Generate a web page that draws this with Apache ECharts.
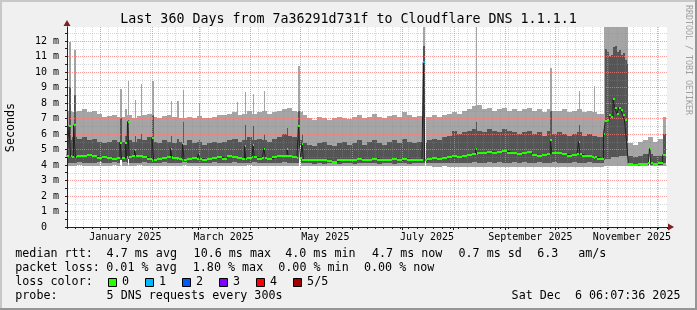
<!DOCTYPE html>
<html><head><meta charset="utf-8">
<script src="https://cdn.jsdelivr.net/npm/echarts@6/dist/echarts.min.js"></script>
<style>html,body{margin:0;padding:0;background:#f0f0f0}#c{width:697px;height:310px}</style>
</head><body><div id="c"></div>
<script>
// ===== DATA (x unit: days since 2024-12-12 00:00) =====
const monthStartDays = [20, 51, 79, 110, 140, 171, 201, 232, 263, 293, 324, 354];
const monthLabelDays = [35, 94, 155, 216, 278, 339];
const monthLabels = ['January 2025', 'March 2025', 'May 2025', 'July 2025', 'September 2025', 'November 2025'];
const yMajorTicks = [1, 2, 3, 4, 5, 6, 7, 8, 9, 10, 11, 12];
const yMinorTicks = [0.5, 1.5, 2.5, 3.5, 4.5, 5.5, 6.5, 7.5, 8.5, 9.5, 10.5, 11.5, 12.5];

// regular 3-day buckets (0..318), then the November burst, then the last weeks
const regularCount = 107;
const blockDays = [321.9, 323.0, 324.2, 325.3, 326.5, 327.6, 328.8, 329.9, 331.1, 332.2, 333.4, 334.5, 335.7];
const postDays = [336.8, 339.8, 342.8, 345.8, 348.8, 351.8, 354.8, 357.4];
const endDay = 359.3;

// smoke: outer band (light) and inner band (dark), ms
const lightLo = [
  3.95,3.93,3.97,3.95,3.92,3.95,3.96,3.93,3.95,3.97,
  3.95,3.96,3.94,3.95,3.97,3.95,3.93,3.95,3.96,3.94,
  3.95,3.93,3.95,3.97,3.95,3.94,3.96,3.95,3.93,3.95,
  3.95,3.96,3.94,3.95,3.93,3.95,3.97,3.95,3.94,3.95,
  3.95,3.94,3.95,3.96,3.95,3.93,3.95,3.94,3.95,3.93,
  3.95,3.94,3.95,3.93,3.95,3.95,3.94,3.95,3.93,3.95,
  3.94,3.95,3.93,3.95,3.94,3.95,3.93,3.95,3.94,3.93,
  3.93,3.92,3.92,3.9,3.9,3.92,3.9,3.9,3.88,3.9,
  3.9,3.88,3.9,3.9,3.88,3.9,3.9,3.88,3.9,3.9,
  3.9,3.9,3.88,3.9,3.9,3.88,3.9,3.9,3.88,3.9,
  3.9,3.9,3.88,3.9,3.9,3.9,3.9,
  3.95,3.95,3.95,3.95,3.95,3.95,3.95,3.95,3.95,3.95,3.95,3.95,3.95,
  3.92,3.92,3.92,3.92,3.92,3.92,3.92,3.92
];
const lightHi = [
  7.5,7.4,7.45,7.6,7.4,7.5,7.3,7.1,7.15,7.25,
  7.1,7.1,7.2,7.0,7.15,7.2,7.3,7.1,7.0,7.15,
  7.2,7.1,7.0,7.05,7.1,7.0,7.15,7.05,7.0,7.1,
  7.2,7.2,7.3,7.4,7.2,7.3,7.5,7.3,7.4,7.5,
  7.3,7.4,7.5,7.6,7.7,7.5,7.4,7.2,7.0,6.9,
  7.1,7.0,6.9,7.05,7.1,7.0,6.95,7.1,7.2,7.0,
  7.1,7.3,7.1,7.0,7.15,7.2,7.1,7.4,7.2,7.1,
  7.15,7.1,7.1,7.2,7.1,7.2,7.3,7.4,7.3,7.5,
  7.6,7.8,7.9,7.6,7.7,7.5,7.6,7.7,7.5,7.6,
  7.5,7.6,7.7,7.5,7.6,7.4,7.6,7.5,7.5,7.6,
  7.4,7.5,7.6,7.4,7.5,7.4,7.3,
  12.9,12.9,12.9,12.9,12.9,12.9,12.9,12.9,12.9,12.9,12.9,12.9,12.9,
  5.4,5.3,5.5,5.6,5.8,5.5,5.7,7.1
];
const darkLo = [
  4.15,4.1,4.2,4.15,4.1,4.15,4.2,4.1,4.15,4.2,
  4.15,4.2,4.15,4.1,4.15,4.2,4.15,4.1,4.15,4.2,
  4.15,4.1,4.15,4.2,4.15,4.1,4.15,4.1,4.15,4.2,
  4.15,4.1,4.15,4.2,4.15,4.1,4.15,4.2,4.15,4.1,
  4.15,4.1,4.15,4.2,4.15,4.15,4.1,4.1,4.1,4.05,
  4.1,4.05,4.1,4.1,4.05,4.1,4.1,4.05,4.1,4.1,
  4.1,4.1,4.05,4.1,4.1,4.05,4.1,4.1,4.05,4.1,
  4.1,4.1,4.1,4.15,4.1,4.15,4.15,4.1,4.15,4.15,
  4.15,4.2,4.15,4.15,4.2,4.15,4.2,4.15,4.15,4.2,
  4.15,4.2,4.15,4.15,4.2,4.15,4.15,4.2,4.15,4.15,
  4.15,4.2,4.15,4.15,4.2,4.15,4.15,
  4.3,4.4,4.4,4.4,4.5,4.5,4.5,4.5,4.6,4.6,4.6,4.6,4.6,
  4.0,3.98,4.0,4.0,4.02,4.0,4.0,4.1
];
const darkHi = [
  5.6,5.8,5.7,5.8,5.6,5.7,5.5,5.4,5.5,5.6,
  5.5,5.5,5.6,5.5,5.7,5.6,5.8,5.5,5.4,5.6,
  5.5,5.4,5.5,5.3,5.6,5.4,5.5,5.3,5.4,5.5,
  5.4,5.5,5.6,5.7,5.5,5.6,5.8,5.6,5.7,5.6,
  5.5,5.7,5.8,6.0,5.9,5.8,5.6,5.4,5.3,5.2,
  5.4,5.5,5.3,5.2,5.4,5.5,5.3,5.4,5.6,5.3,
  5.5,5.6,5.4,5.3,5.5,5.6,5.4,5.7,5.5,5.4,
  5.5,5.4,5.6,5.7,5.6,5.8,5.9,6.2,6.0,6.1,
  6.2,6.3,6.2,6.1,6.3,6.2,6.1,6.3,6.2,6.1,
  6.0,6.1,6.2,6.0,6.1,5.9,6.2,6.0,6.1,6.0,
  5.9,6.0,6.1,5.9,6.0,5.9,5.8,
  6.3,11.5,11.3,11.0,11.1,11.6,11.7,11.3,11.4,11.1,11.2,10.8,10.5,
  4.6,4.5,4.6,4.7,4.7,4.6,4.6,6.0
];
const medianRtt = [
  4.55,4.5,4.6,4.6,4.65,4.55,4.45,4.5,4.45,4.4,
  4.45,4.45,4.5,4.55,4.6,4.5,4.4,4.35,4.4,4.45,
  4.5,4.45,4.4,4.35,4.4,4.45,4.4,4.35,4.4,4.45,
  4.5,4.4,4.55,4.5,4.45,4.4,4.45,4.5,4.4,4.45,
  4.4,4.5,4.55,4.6,4.55,4.5,4.45,4.35,4.3,4.3,
  4.35,4.3,4.25,4.2,4.3,4.35,4.3,4.35,4.4,4.3,
  4.35,4.4,4.35,4.3,4.35,4.4,4.3,4.4,4.35,4.3,
  4.3,4.3,4.4,4.45,4.4,4.45,4.5,4.55,4.5,4.6,
  4.65,4.7,4.8,4.75,4.85,4.8,4.85,4.9,4.8,4.75,
  4.7,4.8,4.85,4.65,4.6,4.65,4.7,4.75,4.75,4.7,
  4.6,4.65,4.7,4.6,4.55,4.5,4.4,
  6.0,6.85,6.9,7.2,7.1,8.25,7.65,7.3,7.7,7.55,7.2,6.9,5.5,
  4.05,4.0,4.05,4.05,4.1,4.05,4.1,4.65
];

// narrow spikes (start day, width in days, outer top, inner top, median, loss count)
const spikeDay    = [1.2, 3.9, 31.8, 35.0, 36.3, 40.5, 44.1, 51.0, 62.1, 66.1, 69.4, 78.9, 102.0, 106.5, 111.6, 118.2, 132.0, 138.8, 141.0, 213.8, 245.1, 290.0, 306.9, 315.9, 349.5];
const spikeWidth  = [1.0, 1.2, 1.0, 0.9, 1.0, 0.8, 0.8, 1.0, 0.8, 0.8, 0.8, 0.6, 0.8, 0.8, 0.8, 0.8, 0.8, 1.2, 0.8, 0.8, 0.8, 1.0, 0.8, 0.6, 0.7];
const spikeLightHi= [11.95, 11.4, 8.9, 7.6, 9.4, 8.2, 9.2, 9.4, 8.1, 8.1, 8.85, 8.0, 8.05, 8.7, 8.55, 8.75, 7.7, 10.4, 7.5, 12.9, 12.9, 10.25, 8.8, 9.1, 5.8];
const spikeDarkHi = [9.0, 8.5, 7.0, 5.9, 6.9, 5.9, 6.0, 7.2, 5.9, 5.7, 6.8, 5.6, 5.7, 6.6, 6.5, 6.0, 6.4, 7.5, 6.0, 11.7, 6.8, 7.5, 6.6, 5.9, 5.1];
const spikeMed    = [6.5, 6.55, 5.45, 5.4, 6.8, 4.95, 4.6, 5.75, 5.05, 4.45, 5.35, 4.7, 4.5, 5.2, 5.3, 5.05, 5.0, 6.5, 5.37, 10.65, 5.0, 5.6, 5.5, 4.45, 5.05];
const spikeLoss   = [0, 0, 0, 0, 0, 0, 0, 0, 0, 0, 0, 0, 0, 0, 0, 0, 0, 0, 0, 1, 0, 0, 0, 0, 0];

// columns with missing lower smoke (white)
const gapDay   = [19.8, 31.8, 36.3, 139.4, 214.6, 348.9];
const gapWidth = [0.6, 0.9, 1.0, 1.2, 0.8, 0.6];
const gapLo    = [3.85, 3.85, 3.85, 3.85, 3.85, 3.85];
const gapHi    = [4.25, 4.35, 4.4, 5.3, 7.3, 4.9];

const lossColors = ['#26ff00', '#00b8ff', '#0059ff', '#7e00ff', '#ff0000', '#a10000'];
const lossLabels = ['0', '1', '2', '3', '4', '5/5'];
const Y_MAX = 12.9;
const X_MIN = 0, X_MAX = 360;

// ===== build =====
const days = [];
for (let i = 0; i < regularCount; i++) days.push(i * 3);
blockDays.forEach(d => days.push(d));
postDays.forEach(d => days.push(d));
const nextDay = i => (i + 1 < days.length ? days[i + 1] : endDay);
function baseIdx(d) { let k = 0; for (let i = 0; i < days.length; i++) if (days[i] <= d) k = i; return k; }

const lightData = days.map((d, i) => [d, nextDay(i), lightLo[i], lightHi[i]]);
const darkData = days.map((d, i) => [d, nextDay(i), darkLo[i], darkHi[i]]);
const spikeLight = spikeDay.map((d, j) => [d, d + spikeWidth[j], lightLo[baseIdx(d)], spikeLightHi[j]]);
const spikeDark = spikeDay.map((d, j) => [d, d + spikeWidth[j], darkLo[baseIdx(d)], spikeDarkHi[j]]);
const gapData = gapDay.map((d, j) => [d, d + gapWidth[j], gapLo[j], gapHi[j]]);

let med = days.map((d, i) => [d, medianRtt[i], 0]);
spikeDay.forEach((d, j) => {
  med.push([d, spikeMed[j], spikeLoss[j]]);
  const e = d + spikeWidth[j];
  med.push([e, medianRtt[baseIdx(e)], 0]);
});
med.sort((a, b) => a[0] - b[0]);
const medLine = med.map(p => [p[0], p[1]]);
medLine.push([endDay, med[med.length - 1][1]]);
const medSeg = med.map((p, i) => [p[0], i + 1 < med.length ? med[i + 1][0] : endDay, p[1], p[2]]);

// ===== style =====
const FONT = '"DejaVu Sans Mono", monospace';
const GRID = 'rgba(140,140,140,0.34)';
const MGRID = 'rgba(255,120,120,0.75)';
const LIGHT = '#a5a5a5', DARK = '#555555';

function band(color) {
  return function (params, api) {
    const p0 = api.coord([api.value(0), api.value(3)]);
    const p1 = api.coord([api.value(1), api.value(2)]);
    const x0 = Math.round(p0[0]);
    const x1 = Math.max(Math.round(p1[0]), x0 + 1);
    const y0 = Math.round(p0[1]), y1 = Math.round(p1[1]);
    return { type: 'rect', shape: { x: x0, y: y0, width: x1 - x0, height: y1 - y0 }, style: { fill: color } };
  };
}
function segs(params, api) {
  const p0 = api.coord([api.value(0), api.value(2)]);
  const p1 = api.coord([api.value(1), api.value(2)]);
  const x0 = Math.round(p0[0]);
  const x1 = Math.max(Math.round(p1[0]), x0 + 1);
  return { type: 'rect', shape: { x: x0, y: Math.round(p0[1]) - 1, width: x1 - x0, height: 2 },
           style: { fill: lossColors[api.value(3)] } };
}
function vline(params, api) {
  const a = api.coord([api.value(0), 0]);
  const b = api.coord([api.value(0), Y_MAX]);
  const x = Math.round(a[0]) + 0.5;
  return { type: 'line', shape: { x1: x, y1: b[1], x2: x, y2: a[1] }, style: { stroke: MGRID, lineWidth: 1, lineDash: [1, 1] } };
}
function hline(color) {
  return function (params, api) {
    const a = api.coord([X_MIN, api.value(1)]);
    const b = api.coord([X_MAX, api.value(1)]);
    const y = Math.round(a[1]) + 0.5;
    return { type: 'line', shape: { x1: a[0] + 1, y1: y, x2: b[0], y2: y }, style: { stroke: color, lineWidth: 1, lineDash: [1, 1] } };
  };
}

function txt(text, x, y, size, extra) {
  return Object.assign({ type: 'text', x: x, y: y, silent: true,
    style: { text: text, font: size + 'px ' + FONT, fill: '#000', align: 'left', textAlign: 'left', verticalAlign: 'middle', textVerticalAlign: 'middle' } }, extra || {});
}
const graphics = [
  { type: 'rect', silent: true, shape: { x: 0, y: 0, width: 697, height: 2 }, style: { fill: '#c8c8c8' } },
  { type: 'rect', silent: true, shape: { x: 0, y: 0, width: 2, height: 310 }, style: { fill: '#c8c8c8' } },
  { type: 'rect', silent: true, shape: { x: 0, y: 308, width: 697, height: 2 }, style: { fill: '#969696' } },
  { type: 'rect', silent: true, shape: { x: 695, y: 0, width: 2, height: 310 }, style: { fill: '#969696' } },
];
const title = txt('Last 360 Days from 7a36291d731f to Cloudflare DNS 1.1.1.1', 348.5, 19.3, 13.3);
title.style.align = 'center'; title.style.textAlign = 'center';
graphics.push(title);
const yname = txt('Seconds', 11, 127.5, 11.7, { rotation: Math.PI / 2 });
yname.style.align = 'center'; yname.style.textAlign = 'center';
graphics.push(yname);
const wm = txt('RRDTOOL / TOBI OETIKER', 688, 5, 8.3, { rotation: -Math.PI / 2 });
wm.style.fill = '#a0a0a0';
graphics.push(wm);
const legendRows = [
  ['median rtt:', 15.3, 254], ['4.7 ms avg', 106.6, 254], ['10.6 ms max', 193.6, 254], ['4.0 ms min', 285.2, 254],
  ['4.7 ms now', 372, 254], ['0.7 ms sd', 458.5, 254], ['6.3', 537.3, 254], ['am/s', 578.2, 254],
  ['packet loss:', 15.3, 268], ['0.01 % avg', 106.3, 268], ['1.80 % max', 192.8, 268], ['0.00 % min', 278.3, 268], ['0.00 % now', 364, 268],
  ['loss color:', 15.3, 282],
  ['probe:', 15.3, 296], ['5 DNS requests every 300s', 106.6, 296]
];
legendRows.forEach(r => graphics.push(txt(r[0], r[1], r[2], 11.7)));
const dateTxt = txt('Sat Dec  6 06:07:36 2025', 680.5, 296, 11.7);
dateTxt.style.align = 'right'; dateTxt.style.textAlign = 'right';
graphics.push(dateTxt);
lossColors.forEach((c, k) => {
  const bx = 108.5 + 37 * k;
  graphics.push({ type: 'rect', silent: true, shape: { x: bx, y: 278.5, width: 8, height: 8 }, style: { fill: c, stroke: '#000', lineWidth: 1 } });
  graphics.push(txt(lossLabels[k], bx + 13.6, 282, 11.7));
});

const option = {
  animation: false,
  backgroundColor: '#f0f0f0',
  grid: { left: 67, top: 27, width: 600, height: 200, show: true, backgroundColor: '#ffffff', borderWidth: 0 },
  xAxis: [
    { type: 'value', min: X_MIN, max: X_MAX, interval: 5, position: 'bottom', z: 5,
      axisLine: { show: true, onZero: false, lineStyle: { color: '#202020', width: 1 } },
      axisTick: { show: true, length: 2, lineStyle: { color: '#202020' } },
      axisLabel: { show: false },
      splitLine: { show: true, showMinLine: false, showMaxLine: false, lineStyle: { color: GRID, width: 1, type: [1, 1] } } },
    { type: 'value', min: X_MIN, max: X_MAX, position: 'bottom', z: 3,
      axisLine: { show: true, onZero: false, symbol: ['none', 'triangle'], symbolSize: [7, 6], symbolOffset: [0, 4], lineStyle: { color: '#801f1f' } },
      axisTick: { show: true, length: 3, customValues: monthStartDays, lineStyle: { color: '#202020' } },
      axisLabel: { show: true, customValues: monthLabelDays, margin: 5, fontFamily: FONT, fontSize: 10, color: '#000',
        formatter: v => { const k = monthLabelDays.indexOf(Math.round(v)); return k >= 0 ? monthLabels[k] : ''; } },
      splitLine: { show: false } }
  ],
  yAxis: [
    { type: 'value', min: 0, max: Y_MAX, interval: 0.5, z: 5,
      axisLine: { show: true, onZero: false, lineStyle: { color: '#202020' } },
      axisTick: { show: true, length: 2, lineStyle: { color: '#202020' } },
      axisLabel: { margin: 8, fontFamily: FONT, fontSize: 10, color: '#000', showMaxLabel: false,
        formatter: v => (Math.abs(v - Math.round(v)) < 1e-6 ? (Math.round(v) === 0 ? '0  ' : Math.round(v) + ' m') : '') },
      splitLine: { show: false } },
    { type: 'value', min: 0, max: Y_MAX, position: 'left', z: 3,
      axisLine: { show: true, onZero: false, symbol: ['none', 'triangle'], symbolSize: [7, 6], symbolOffset: [0, 4], lineStyle: { color: '#801f1f' } },
      axisTick: { show: false }, axisLabel: { show: false }, splitLine: { show: false } }
  ],
  series: [
    { name: 'outer', type: 'custom', xAxisIndex: 0, yAxisIndex: 0, z: 2, silent: true, renderItem: band(LIGHT), data: lightData },
    { name: 'outerSpike', type: 'custom', xAxisIndex: 0, yAxisIndex: 0, z: 2, silent: true, renderItem: band(LIGHT), data: spikeLight },
    { name: 'inner', type: 'custom', xAxisIndex: 0, yAxisIndex: 0, z: 2, silent: true, renderItem: band(DARK), data: darkData },
    { name: 'innerSpike', type: 'custom', xAxisIndex: 0, yAxisIndex: 0, z: 2, silent: true, renderItem: band(DARK), data: spikeDark },
    { name: 'gaps', type: 'custom', xAxisIndex: 0, yAxisIndex: 0, z: 2, silent: true, renderItem: band('#ffffff'), data: gapData },
    { name: 'minorY', type: 'custom', xAxisIndex: 0, yAxisIndex: 0, z: 4, silent: true, renderItem: hline(GRID), data: yMinorTicks.map(v => [X_MIN, v]) },
    { name: 'months', type: 'custom', xAxisIndex: 0, yAxisIndex: 0, z: 5, silent: true, renderItem: vline, data: monthStartDays.map(d => [d, 0]) },
    { name: 'majorY', type: 'custom', xAxisIndex: 0, yAxisIndex: 0, z: 5, silent: true, renderItem: hline(MGRID), data: yMajorTicks.map(v => [X_MIN, v]) },
    { name: 'median', type: 'line', xAxisIndex: 0, yAxisIndex: 0, z: 6, silent: true, step: 'end', showSymbol: false, symbol: 'none',
      lineStyle: { color: '#202020', width: 1 }, data: medLine },
    { name: 'loss', type: 'custom', xAxisIndex: 0, yAxisIndex: 0, z: 7, silent: true, renderItem: segs, data: medSeg }
  ],
  graphic: graphics
};
const chart = echarts.init(document.getElementById('c'), null, { renderer: 'canvas' });
chart.setOption(option);
</script>
</body></html>
